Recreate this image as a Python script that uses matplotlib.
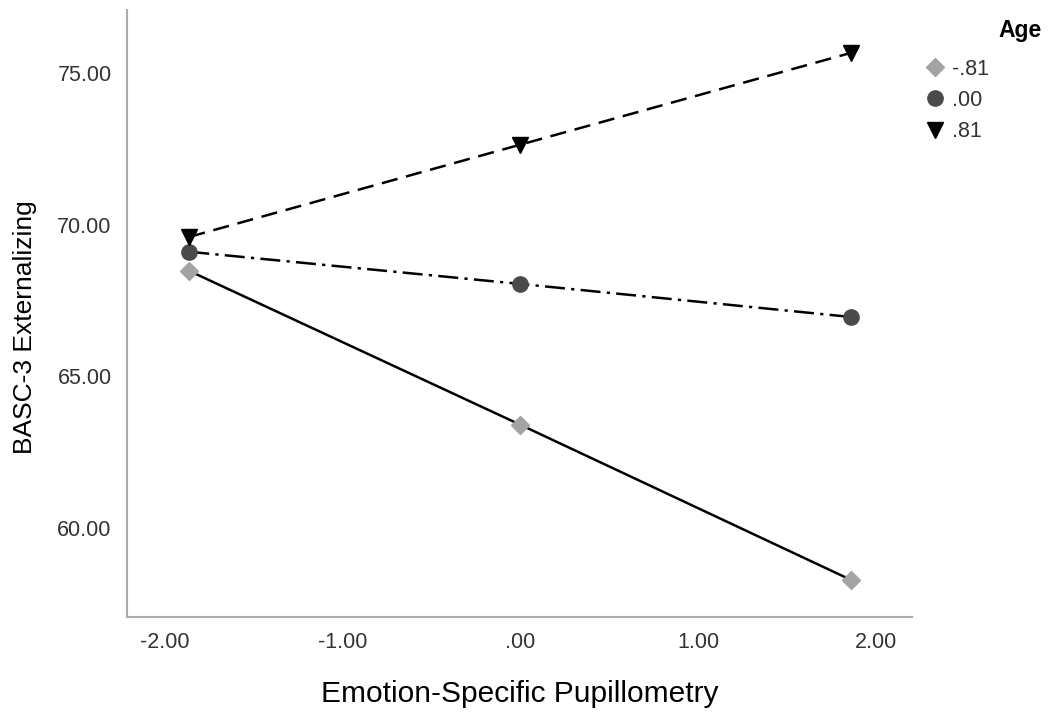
import matplotlib
matplotlib.use("Agg")
import matplotlib.pyplot as plt
from matplotlib.lines import Line2D

plt.rcParams['font.family'] = ['Liberation Sans', 'DejaVu Sans']

# Datos
pupil = [-1.86, 0.0, 1.86]
age_labels = ['-.81', '.00', '.81']
basc_low = [68.48, 63.41, 58.29]
basc_mid = [69.11, 68.05, 66.96]
basc_high = [69.60, 72.64, 75.67]
xticks = [-2, -1, 0, 1, 2]
xtick_labels = ['-2.00', '-1.00', '.00', '1.00', '2.00']
yticks = [60, 65, 70, 75]
ytick_labels = ['60.00', '65.00', '70.00', '75.00']

fig = plt.figure(figsize=(10.49, 7.17), dpi=100)
ax = fig.add_axes([0.121, 0.1395, 0.748, 0.8465])

series = [
    (basc_low, 'D', '#a3a3a3', '-', 9),
    (basc_mid, 'o', '#4a4a4a', (0, (8, 2.5, 1.3, 2.5)), 11),
    (basc_high, 'v', '#000000', (0, (6.5, 3.5)), 12),
]
handles = []
for vals, mk, col, ls, ms in series:
    ax.plot(pupil, vals, color='black', linestyle=ls, linewidth=1.8, zorder=2)
    ax.plot(pupil, vals, linestyle='none', marker=mk, markersize=ms,
            markerfacecolor=col, markeredgecolor=col, zorder=3)
    handles.append(Line2D([], [], linestyle='none', marker=mk, markersize=ms,
                          markerfacecolor=col, markeredgecolor=col))

ax.set_xlim(-2.21, 2.2)
ax.set_ylim(57.07, 77.08)
ax.set_xticks(xticks)
ax.set_xticklabels(xtick_labels)
ax.set_yticks(yticks)
ax.set_yticklabels(ytick_labels)
ax.tick_params(length=0, labelsize=15.5, colors='#333333', pad=11)

for s in ['top', 'right']:
    ax.spines[s].set_visible(False)
for s in ['left', 'bottom']:
    ax.spines[s].set_color('#aaaaaa')
    ax.spines[s].set_linewidth(1.5)

ax.set_xlabel('Emotion-Specific Pupillometry', fontsize=21.5, labelpad=19)
ax.set_ylabel('BASC-3 Externalizing', fontsize=19)
ax.yaxis.set_label_coords(-0.114, 0.478)

leg = fig.legend(handles, age_labels, loc='upper left', bbox_to_anchor=(0.872, 0.93),
                 frameon=False, fontsize=15.5, handletextpad=0.25, labelspacing=0.47,
                 handlelength=1.1, borderaxespad=0)
for t in leg.get_texts():
    t.set_color('#333333')
fig.text(0.952, 0.958, 'Age', fontsize=16.5, fontweight='bold', ha='left', va='center')

fig.savefig('out.png', dpi=100)
